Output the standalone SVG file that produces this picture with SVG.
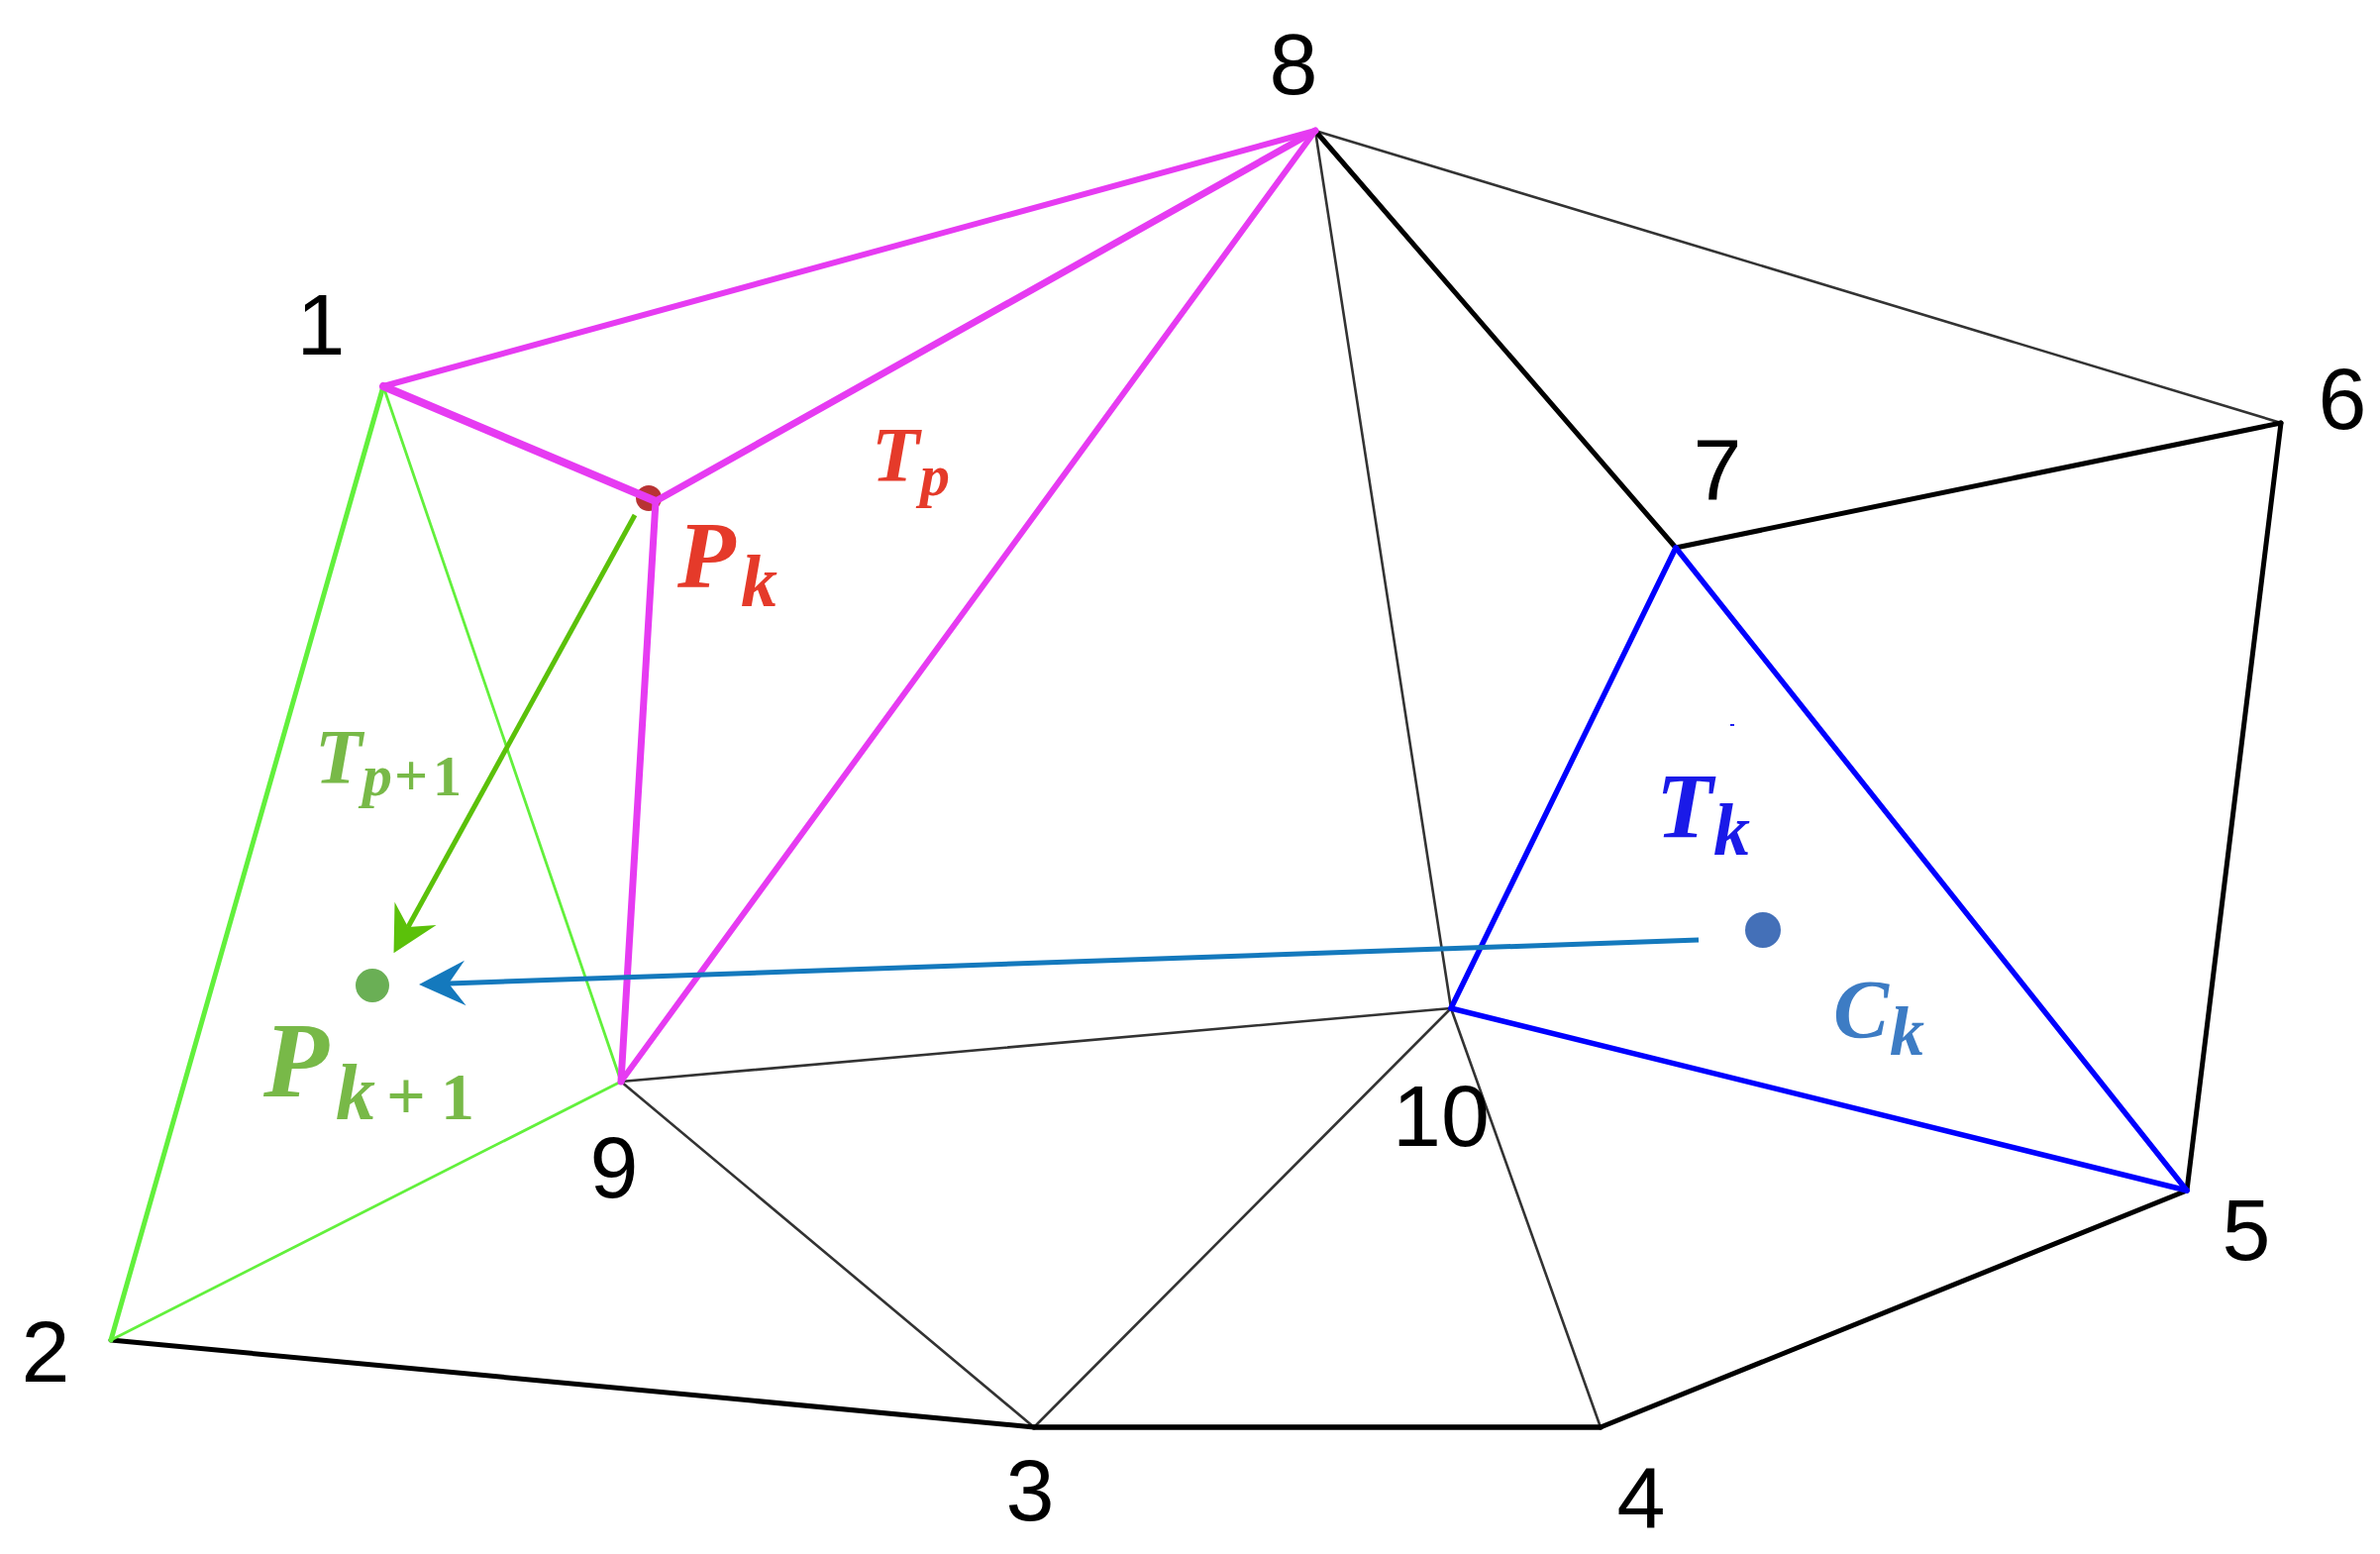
<svg xmlns="http://www.w3.org/2000/svg" width="2403" height="1569" viewBox="0 0 2403 1569">
<style>
.lbl{font-family:"Liberation Sans",Arial,sans-serif;font-size:88px;fill:#000;text-anchor:middle}
.m{font-family:"Liberation Serif","Times New Roman",serif;font-weight:bold;font-style:italic}
.up{font-style:normal}
.mag{stroke:#E63BF2;fill:none;stroke-linecap:round}
.grn{stroke:#62F03C;fill:none;stroke-linecap:round}
.blk{stroke:#000;fill:none;stroke-linecap:round}
.thin{stroke:#333;stroke-width:2.6;fill:none;stroke-linecap:round}
.blu{stroke:#0000FF;stroke-width:5.5;fill:none;stroke-linecap:round}
</style>
<defs>
<marker id="ahG" markerUnits="userSpaceOnUse" orient="auto" refX="0" refY="0" markerWidth="60" markerHeight="60" viewBox="-20 -25 50 50" overflow="visible">
<path d="M25,0 L-13,-20 L0,0 L-13,20 Z" fill="#5BC10A"/>
</marker>
<marker id="ahB" markerUnits="userSpaceOnUse" orient="auto" refX="0" refY="0" markerWidth="60" markerHeight="60" viewBox="-20 -25 50 50" overflow="visible">
<path d="M25,0 L-14,-19 L0,0 L-14,19 Z" fill="#1479BD"/>
</marker>
</defs>
<rect width="2403" height="1569" fill="#fff"/>

<g id="point-pk-dot"><circle cx="655" cy="503" r="13" fill="#B83333"/></g>

<g id="connectors">
<line class="thin" x1="1328" y1="132" x2="2303" y2="427"/>
<line class="thin" x1="1328" y1="132" x2="1465" y2="1018"/>
<line class="thin" x1="627" y1="1092" x2="1465" y2="1018"/>
<line class="thin" x1="627" y1="1092" x2="1044" y2="1441"/>
<line class="thin" x1="1044" y1="1441" x2="1465" y2="1018"/>
<line class="thin" x1="1465" y1="1018" x2="1616" y2="1441"/>
<line class="blk" stroke-width="5" x1="1328" y1="132" x2="1692" y2="553"/>
<line class="blk" stroke-width="5" x1="1692" y1="553" x2="2303" y2="427"/>
<line class="blk" stroke-width="5" x1="2303" y1="427" x2="2208" y2="1202"/>
<line class="blk" stroke-width="5" x1="2208" y1="1202" x2="1616" y2="1441"/>
<line class="blk" stroke-width="5.5" x1="1616" y1="1441" x2="1044" y2="1441"/>
<line class="blk" stroke-width="5" x1="1044" y1="1441" x2="112" y2="1353"/>
<line class="grn" stroke-width="5" x1="387" y1="390" x2="112" y2="1353"/>
<line class="grn" stroke-width="2.8" x1="387" y1="390" x2="627" y2="1092"/>
<line class="grn" stroke-width="2.8" x1="112" y1="1353" x2="627" y2="1092"/>
<line class="blu" x1="1692" y1="553" x2="1465" y2="1018"/>
<line class="blu" x1="1692" y1="553" x2="2208" y2="1202"/>
<line class="blu" x1="1465" y1="1018" x2="2208" y2="1202"/>
<line class="mag" stroke-width="6" x1="387" y1="390" x2="1328" y2="132"/>
<line class="mag" stroke-width="8" x1="387" y1="390" x2="662" y2="506"/>
<line class="mag" stroke-width="7" x1="662" y1="506" x2="1328" y2="132"/>
<line class="mag" stroke-width="7" x1="662" y1="506" x2="627" y2="1092"/>
<line class="mag" stroke-width="6" x1="627" y1="1092" x2="1328" y2="132"/>
<line stroke="#5BC10A" stroke-width="5" x1="641" y1="520" x2="412" y2="936" marker-end="url(#ahG)"/>
<line stroke="#1479BD" stroke-width="5" x1="1715" y1="949" x2="453" y2="993" marker-end="url(#ahB)"/>
<line stroke="#2020F0" stroke-width="2" x1="1747" y1="732" x2="1751" y2="732"/>
</g>

<g id="node-1"><text class="lbl" x="324" y="358">1</text></g>
<g id="node-2"><text class="lbl" x="46" y="1395">2</text></g>
<g id="node-3"><text class="lbl" x="1040" y="1535">3</text></g>
<g id="node-4"><text class="lbl" x="1657" y="1543">4</text></g>
<g id="node-5"><text class="lbl" x="2268" y="1272">5</text></g>
<g id="node-6"><text class="lbl" x="2365" y="433">6</text></g>
<g id="node-7"><text class="lbl" x="1734" y="505">7</text></g>
<g id="node-8"><text class="lbl" x="1306" y="95">8</text></g>
<g id="node-9"><text class="lbl" x="620" y="1209">9</text></g>
<g id="node-10"><text class="lbl" x="1455" y="1157">10</text></g>

<g id="label-pk">
<text class="m" fill="#E53A2A"><tspan x="684" y="593" font-size="96">P</tspan><tspan x="748" y="612" font-size="74">k</tspan></text>
</g>
<g id="label-tp">
<text class="m" fill="#E53A2A"><tspan x="880" y="485" font-size="79">T</tspan><tspan x="929" y="500" font-size="60">p</tspan></text>
</g>
<g id="label-tp1">
<text class="m" fill="#78B948"><tspan x="318" y="790" font-size="78">T</tspan><tspan x="366" y="803" font-size="60">p</tspan><tspan class="up" x="398" y="803" font-size="60">+</tspan><tspan class="up" x="437" y="803" font-size="58">1</tspan></text>
</g>
<g id="point-pk1">
<circle cx="376" cy="995" r="17" fill="#6AAF55"/>
<text class="m" fill="#78B948"><tspan x="266" y="1107" font-size="108">P</tspan><tspan x="339" y="1130" font-size="80">k</tspan><tspan class="up" x="390" y="1130" font-size="70">+</tspan><tspan class="up" x="445" y="1130" font-size="68">1</tspan></text>
</g>
<g id="label-tk">
<text class="m" fill="#1A1AE8"><tspan x="1672" y="845" font-size="94">T</tspan><tspan x="1730" y="863" font-size="74">k</tspan></text>
</g>
<g id="point-ck">
<circle cx="1780" cy="939" r="18" fill="#4470B8"/>
<text class="m" fill="#3D7CC4"><tspan x="1851" y="1048" font-size="84">C</tspan><tspan x="1908" y="1065" font-size="70">k</tspan></text>
</g>
</svg>
